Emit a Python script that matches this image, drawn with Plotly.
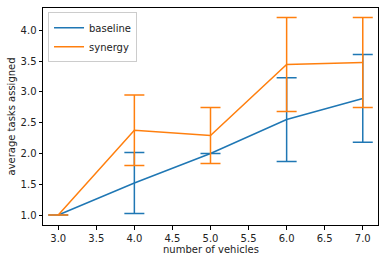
import plotly.graph_objects as go

vehicles = [3, 4, 5, 6, 7]
baseline_mean = [1.0, 1.52, 2.0, 2.55, 2.893]
baseline_err = [0.0, 0.495, 0.0, 0.68, 0.713]
synergy_mean = [1.0, 2.378, 2.292, 3.444, 3.476]
synergy_err = [0.0, 0.573, 0.454, 0.762, 0.73]

fig = go.Figure()
fig.add_trace(go.Scatter(
    x=vehicles, y=baseline_mean, mode="lines", name="baseline",
    line=dict(color="#1f77b4", width=1.5),
    error_y=dict(type="data", array=baseline_err, visible=True,
                 color="#1f77b4", thickness=1.5, width=10),
))
fig.add_trace(go.Scatter(
    x=vehicles, y=synergy_mean, mode="lines", name="synergy",
    line=dict(color="#ff7f0e", width=1.5),
    error_y=dict(type="data", array=synergy_err, visible=True,
                 color="#ff7f0e", thickness=1.5, width=10),
))

axis_common = dict(
    showgrid=False, zeroline=False, showline=True, linecolor="black",
    linewidth=1, mirror=True, ticks="outside", ticklen=3.5, tickwidth=1,
    tickcolor="black", tickfont=dict(size=10, color="#222"), automargin=False,
)
fig.update_xaxes(range=[2.8, 7.2], tickvals=[3.0, 3.5, 4.0, 4.5, 5.0, 5.5, 6.0, 6.5, 7.0],
                 ticktext=["3.0", "3.5", "4.0", "4.5", "5.0", "5.5", "6.0", "6.5", "7.0"],
                 **axis_common)
fig.update_yaxes(range=[0.838, 4.362], tickvals=[1.0, 1.5, 2.0, 2.5, 3.0, 3.5, 4.0],
                 ticktext=["1.0", "1.5", "2.0", "2.5", "3.0", "3.5", "4.0"],
                 **axis_common)
fig.add_annotation(text="number of vehicles", xref="paper", yref="paper",
                   x=0.5, y=-24 / 217, xanchor="center", yanchor="middle",
                   showarrow=False, font=dict(size=10, color="#222"))
fig.add_annotation(text="average tasks assigned", xref="paper", yref="paper",
                   x=-32 / 335, y=0.5, xanchor="center", yanchor="middle",
                   textangle=-90, showarrow=False, font=dict(size=10, color="#222"))
fig.update_layout(
    width=385, height=261,
    margin=dict(l=43, r=7, t=8, b=36),
    paper_bgcolor="white", plot_bgcolor="white",
    font=dict(family="DejaVu Sans", size=10, color="#222"),
    legend=dict(x=0.015, y=0.98, xanchor="left", yanchor="top",
                bordercolor="#cccccc", borderwidth=1, bgcolor="rgba(255,255,255,0.8)",
                font=dict(size=10), tracegroupgap=0, itemwidth=30),
    showlegend=True,
)
fig.write_html("out.html", config={"displayModeBar": False},
               post_script="document.body.style.margin='0';")
